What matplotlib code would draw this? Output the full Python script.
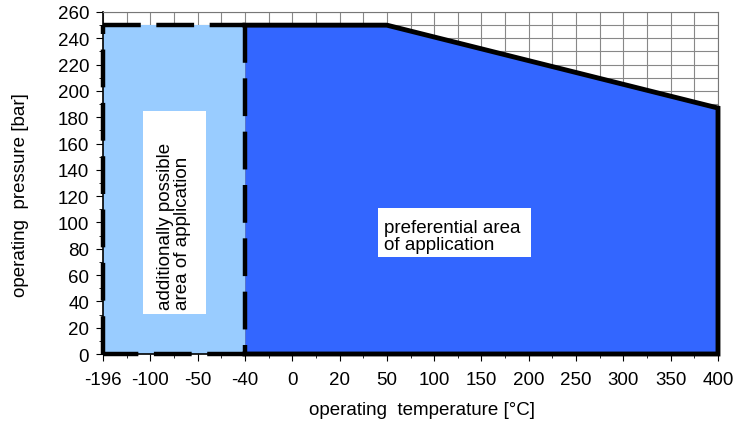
import matplotlib
matplotlib.use('Agg')
from matplotlib import pyplot as plt
from matplotlib.patches import Rectangle
from matplotlib.ticker import MultipleLocator

plt.rcParams['font.family'] = ['Liberation Sans', 'DejaVu Sans']

# temperature categories (evenly spaced on the chart)
temps = ['-196', '-100', '-50', '-40', '0', '20', '50', '100', '150', '200', '250', '300', '350', '400']
# additionally possible area: -196 .. -40 °C
extra_temps = ['-196', '-100', '-50', '-40']
extra_press = [250, 250, 250, 250]
# preferential area: -40 .. 400 °C
pref_temps = ['-40', '0', '20', '50', '100', '150', '200', '250', '300', '350', '400']
pref_press = [250, 250, 250, 250, 241, 232, 223, 214, 205, 196, 187]

light = '#99CCFF'
dark = '#3366FF'
fs = 13.5

fig = plt.figure(figsize=(7.47, 4.27), dpi=100)
ax = fig.add_axes([103 / 747, 1 - 355 / 427, 615 / 747, 342 / 427])

xe = [temps.index(t) for t in extra_temps]
xp = [temps.index(t) for t in pref_temps]

ax.fill_between(xe, 0, extra_press, color=light, zorder=2, lw=0)
ax.fill_between(xp, 0, pref_press, color=dark, zorder=2, lw=0)

# solid outline of preferential area
ax.plot(xp + [xp[-1], xp[0]], pref_press + [0, 0], color='black', lw=3.5,
        solid_joinstyle='miter', zorder=4, clip_on=False)
# dashed outline of additional area, edge by edge
x0, x1, top = xe[0], xe[-1], extra_press[0]
for xs, ys in [([x0, x1], [top, top]), ([x1, x1], [top, 0]),
               ([x1, x0], [0, 0]), ([x0, x0], [0, top])]:
    ax.plot(xs, ys, color='black', lw=3.2, dashes=(8.5, 3.5), zorder=5, clip_on=False)

ax.set_xlim(0, len(temps) - 1)
ax.set_ylim(0, 260)
ax.set_xticks(range(len(temps)))
ax.set_xticklabels(temps)
ax.xaxis.set_minor_locator(MultipleLocator(0.5))
ax.yaxis.set_major_locator(MultipleLocator(20))
ax.yaxis.set_minor_locator(MultipleLocator(10))
ax.grid(which='both', color='#888888', lw=0.8, zorder=0)
ax.set_axisbelow(True)
ax.tick_params(which='both', direction='out', labelsize=fs, colors='black')
ax.tick_params(which='major', length=5)
ax.tick_params(axis='x', which='major', pad=7)
ax.tick_params(axis='y', which='major', pad=5)
ax.tick_params(which='minor', length=3)
for s in ['top', 'right']:
    ax.spines[s].set_color('#777777')
ax.spines['left'].set_linewidth(1.2)
ax.spines['bottom'].set_linewidth(1.2)

ax.set_ylabel('operating  pressure [bar]', fontsize=fs)
ax.yaxis.set_label_coords(-0.120, 0.468)
ax.set_xlabel('operating  temperature [°C]', fontsize=fs)
ax.xaxis.set_label_coords(0.519, -0.137)

# label boxes
ax.add_patch(Rectangle((0.846, 30.4), 1.33, 154.4, facecolor='white', edgecolor='none', zorder=6))
ax.text(1.5, 34, 'additionally possible\narea of application', rotation=90, ha='center',
        va='bottom', fontsize=fs, linespacing=1.05, multialignment='left', zorder=7)
ax.add_patch(Rectangle((5.81, 73.8), 3.24, 37.2, facecolor='white', edgecolor='none', zorder=6))
ax.text(5.95, 89.6, 'preferential area\nof application', ha='left', va='center',
        fontsize=fs, linespacing=1.05, zorder=7)

fig.savefig('out.png', dpi=100)
